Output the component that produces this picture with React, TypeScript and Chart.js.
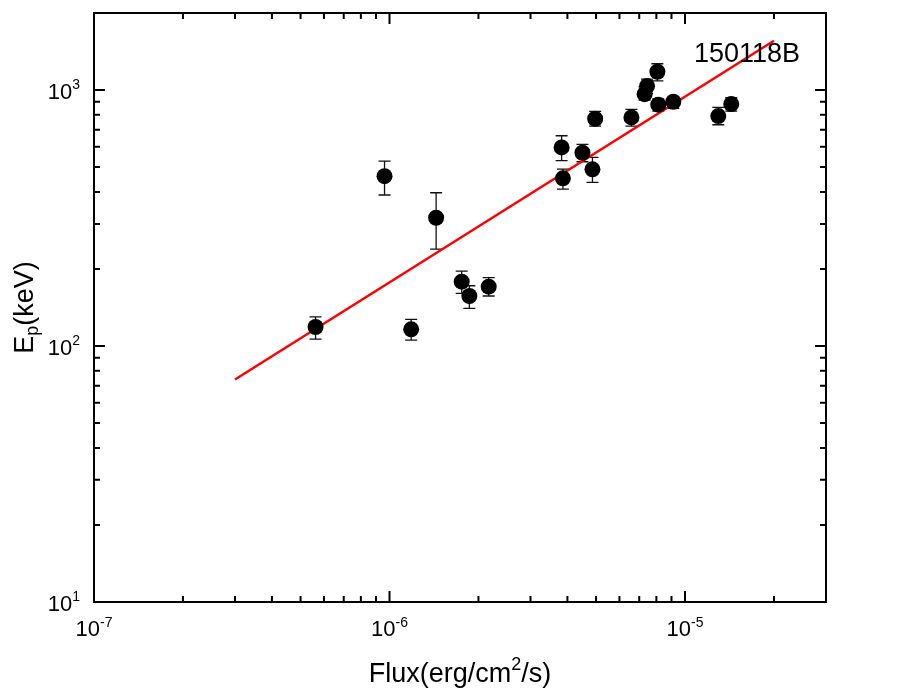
import React, { useEffect, useRef } from "react";
import { Chart, registerables } from "chart.js";

Chart.register(...registerables);

// Data (Flux in erg/cm^2/s, Ep in keV)
const fluxValues = [
  5.62e-7, 9.62e-7, 1.438e-6, 1.184e-6, 1.755e-6, 1.863e-6, 2.166e-6,
  3.823e-6, 3.862e-6, 4.498e-6, 4.862e-6, 4.966e-6, 6.587e-6, 7.44e-6,
  7.3e-6, 8.063e-6, 8.12e-6, 9.13e-6, 1.296e-5, 1.434e-5,
];
const epValues = [
  118.7, 461, 317, 116.2, 178.4, 156.8, 170.5, 597, 452, 569, 490, 772.6,
  781.7, 1036, 964, 1179, 876.5, 900, 791.5, 881.8,
];
const epUpper = [
  130, 528, 397, 127, 196.3, 172, 184.9, 663, 491, 613.6, 546, 825, 840,
  1104, 1030, 1267, 924, 939, 855.7, 933,
];
const epLower = [
  106.4, 389, 239, 105.5, 160.6, 140.3, 156.8, 529.7, 410.5, 524.8, 436, 723,
  723, 970, 914, 1087, 827, 848, 732, 827,
];
const fitFlux = [3e-7, 2e-5];
const fitEp = [74, 1558];
const xTickExponents = [-7, -6, -5];
const yTickExponents = [1, 2, 3];
const grbLabel = "150118B";

const X_MIN = 1e-7;
const X_MAX = 3e-5;
const Y_MIN = 10;
const Y_MAX = 2000;

const FONT = "'Liberation Sans', Arial, Helvetica, sans-serif";

function minorTicks(min: number, max: number): number[] {
  const out: number[] = [];
  const e0 = Math.floor(Math.log10(min));
  const e1 = Math.ceil(Math.log10(max));
  for (let e = e0; e <= e1; e++) {
    for (let m = 2; m <= 9; m++) {
      const v = m * Math.pow(10, e);
      if (v > min * 1.0001 && v < max * 0.9999) out.push(v);
    }
  }
  return out;
}

const axesPlugin = {
  id: "axesPlugin",
  beforeDatasetsDraw(chart: any) {
    const { ctx, scales } = chart;
    const xs = scales.x;
    const ys = scales.y;
    ctx.save();
    ctx.strokeStyle = "#111";
    ctx.lineWidth = 1.3;
    const cap = 6;
    for (let i = 0; i < fluxValues.length; i++) {
      const px = xs.getPixelForValue(fluxValues[i]);
      const pu = ys.getPixelForValue(epUpper[i]);
      const pl = ys.getPixelForValue(epLower[i]);
      ctx.beginPath();
      ctx.moveTo(px, pu);
      ctx.lineTo(px, pl);
      ctx.moveTo(px - cap, pu);
      ctx.lineTo(px + cap, pu);
      ctx.moveTo(px - cap, pl);
      ctx.lineTo(px + cap, pl);
      ctx.stroke();
    }
    ctx.restore();
  },
  afterDraw(chart: any) {
    const { ctx, chartArea, scales } = chart;
    const { left, right, top, bottom } = chartArea;
    const xs = scales.x;
    const ys = scales.y;
    ctx.save();
    ctx.strokeStyle = "#000";
    ctx.fillStyle = "#000";
    ctx.lineWidth = 2;
    ctx.lineCap = "butt";
    ctx.strokeRect(left, top, right - left, bottom - top);

    const major = 11;
    const minor = 6;
    ctx.beginPath();
    // x ticks (bottom & top, inward)
    xTickExponents.forEach((e) => {
      const px = xs.getPixelForValue(Math.pow(10, e));
      ctx.moveTo(px, bottom);
      ctx.lineTo(px, bottom - major);
      ctx.moveTo(px, top);
      ctx.lineTo(px, top + major);
    });
    minorTicks(X_MIN, X_MAX).forEach((v) => {
      const px = xs.getPixelForValue(v);
      ctx.moveTo(px, bottom);
      ctx.lineTo(px, bottom - minor);
      ctx.moveTo(px, top);
      ctx.lineTo(px, top + minor);
    });
    // y ticks (left & right, inward)
    yTickExponents.forEach((e) => {
      const py = ys.getPixelForValue(Math.pow(10, e));
      ctx.moveTo(left, py);
      ctx.lineTo(left + major, py);
      ctx.moveTo(right, py);
      ctx.lineTo(right - major, py);
    });
    minorTicks(Y_MIN, Y_MAX).forEach((v) => {
      const py = ys.getPixelForValue(v);
      ctx.moveTo(left, py);
      ctx.lineTo(left + minor, py);
      ctx.moveTo(right, py);
      ctx.lineTo(right - minor, py);
    });
    ctx.stroke();

    // tick labels
    const baseFont = `22px ${FONT}`;
    const supFont = `14px ${FONT}`;
    ctx.textBaseline = "alphabetic";
    ctx.textAlign = "left";
    xTickExponents.forEach((e) => {
      const px = xs.getPixelForValue(Math.pow(10, e));
      ctx.font = baseFont;
      const w1 = ctx.measureText("10").width;
      ctx.font = supFont;
      const sup = String(e);
      const w2 = ctx.measureText(sup).width;
      const start = px - (w1 + w2) / 2;
      ctx.font = baseFont;
      ctx.fillText("10", start, bottom + 34);
      ctx.font = supFont;
      ctx.fillText(sup, start + w1, bottom + 25);
    });
    yTickExponents.forEach((e) => {
      const py = ys.getPixelForValue(Math.pow(10, e));
      ctx.font = baseFont;
      const w1 = ctx.measureText("10").width;
      ctx.font = supFont;
      const sup = String(e);
      const w2 = ctx.measureText(sup).width;
      const start = left - 14 - (w1 + w2);
      ctx.font = baseFont;
      ctx.fillText("10", start, py + 8.5);
      ctx.font = supFont;
      ctx.fillText(sup, start + w1, py - 1);
    });

    // x axis title
    const tFont = `27px ${FONT}`;
    const tSup = `18px ${FONT}`;
    ctx.font = tFont;
    const a = "Flux(erg/cm";
    const b = "2";
    const c = "/s)";
    const wa = ctx.measureText(a).width;
    const wc = ctx.measureText(c).width;
    ctx.font = tSup;
    const wb = ctx.measureText(b).width;
    const cx = (left + right) / 2;
    let sx = cx - (wa + wb + wc) / 2;
    const by = 682;
    ctx.font = tFont;
    ctx.fillText(a, sx, by);
    ctx.font = tSup;
    ctx.fillText(b, sx + wa, by - 12);
    ctx.font = tFont;
    ctx.fillText(c, sx + wa + wb, by);

    // y axis title
    ctx.save();
    ctx.translate(33, (top + bottom) / 2);
    ctx.rotate(-Math.PI / 2);
    ctx.font = tFont;
    const ya = "E";
    const yb = "p";
    const yc = "(keV)";
    const wya = ctx.measureText(ya).width;
    const wyc = ctx.measureText(yc).width;
    ctx.font = tSup;
    const wyb = ctx.measureText(yb).width;
    const ys0 = -(wya + wyb + wyc) / 2;
    ctx.font = tFont;
    ctx.fillText(ya, ys0, 0);
    ctx.font = tSup;
    ctx.fillText(yb, ys0 + wya, 5);
    ctx.font = tFont;
    ctx.fillText(yc, ys0 + wya + wyb, 0);
    ctx.restore();

    // GRB label
    ctx.font = tFont;
    ctx.fillText(grbLabel, 694, 62);

    ctx.restore();
  },
};

export default function App() {
  const canvasRef = useRef<HTMLCanvasElement | null>(null);

  useEffect(() => {
    document.body.style.margin = "0";
    const canvas = canvasRef.current;
    if (!canvas) return;
    const points = fluxValues.map((x, i) => ({ x, y: epValues[i] }));
    const fit = fitFlux.map((x, i) => ({ x, y: fitEp[i] }));
    const chart = new Chart(canvas, {
      type: "scatter",
      data: {
        datasets: [
          {
            label: "data",
            data: points,
            order: 0,
            pointRadius: 8,
            pointHoverRadius: 8,
            pointBackgroundColor: "#000",
            pointBorderColor: "#000",
            pointBorderWidth: 0,
            showLine: false,
          },
          {
            label: "fit",
            type: "line",
            data: fit,
            order: 1,
            borderColor: "#ff0000",
            borderWidth: 2.5,
            pointRadius: 0,
            fill: false,
            tension: 0,
          } as any,
        ],
      },
      options: {
        responsive: false,
        animation: false,
        layout: { padding: { left: 94, top: 13, right: 91, bottom: 93 } },
        plugins: {
          legend: { display: false },
          tooltip: { enabled: false },
        },
        scales: {
          x: {
            type: "logarithmic",
            min: X_MIN,
            max: X_MAX,
            display: false,
          },
          y: {
            type: "logarithmic",
            min: Y_MIN,
            max: Y_MAX,
            display: false,
          },
        },
      },
      plugins: [axesPlugin],
    });
    return () => chart.destroy();
  }, []);

  return (
    <div style={{ width: 917, height: 695, background: "#fff" }}>
      <canvas ref={canvasRef} width={917} height={695} style={{ display: "block" }} />
    </div>
  );
}
